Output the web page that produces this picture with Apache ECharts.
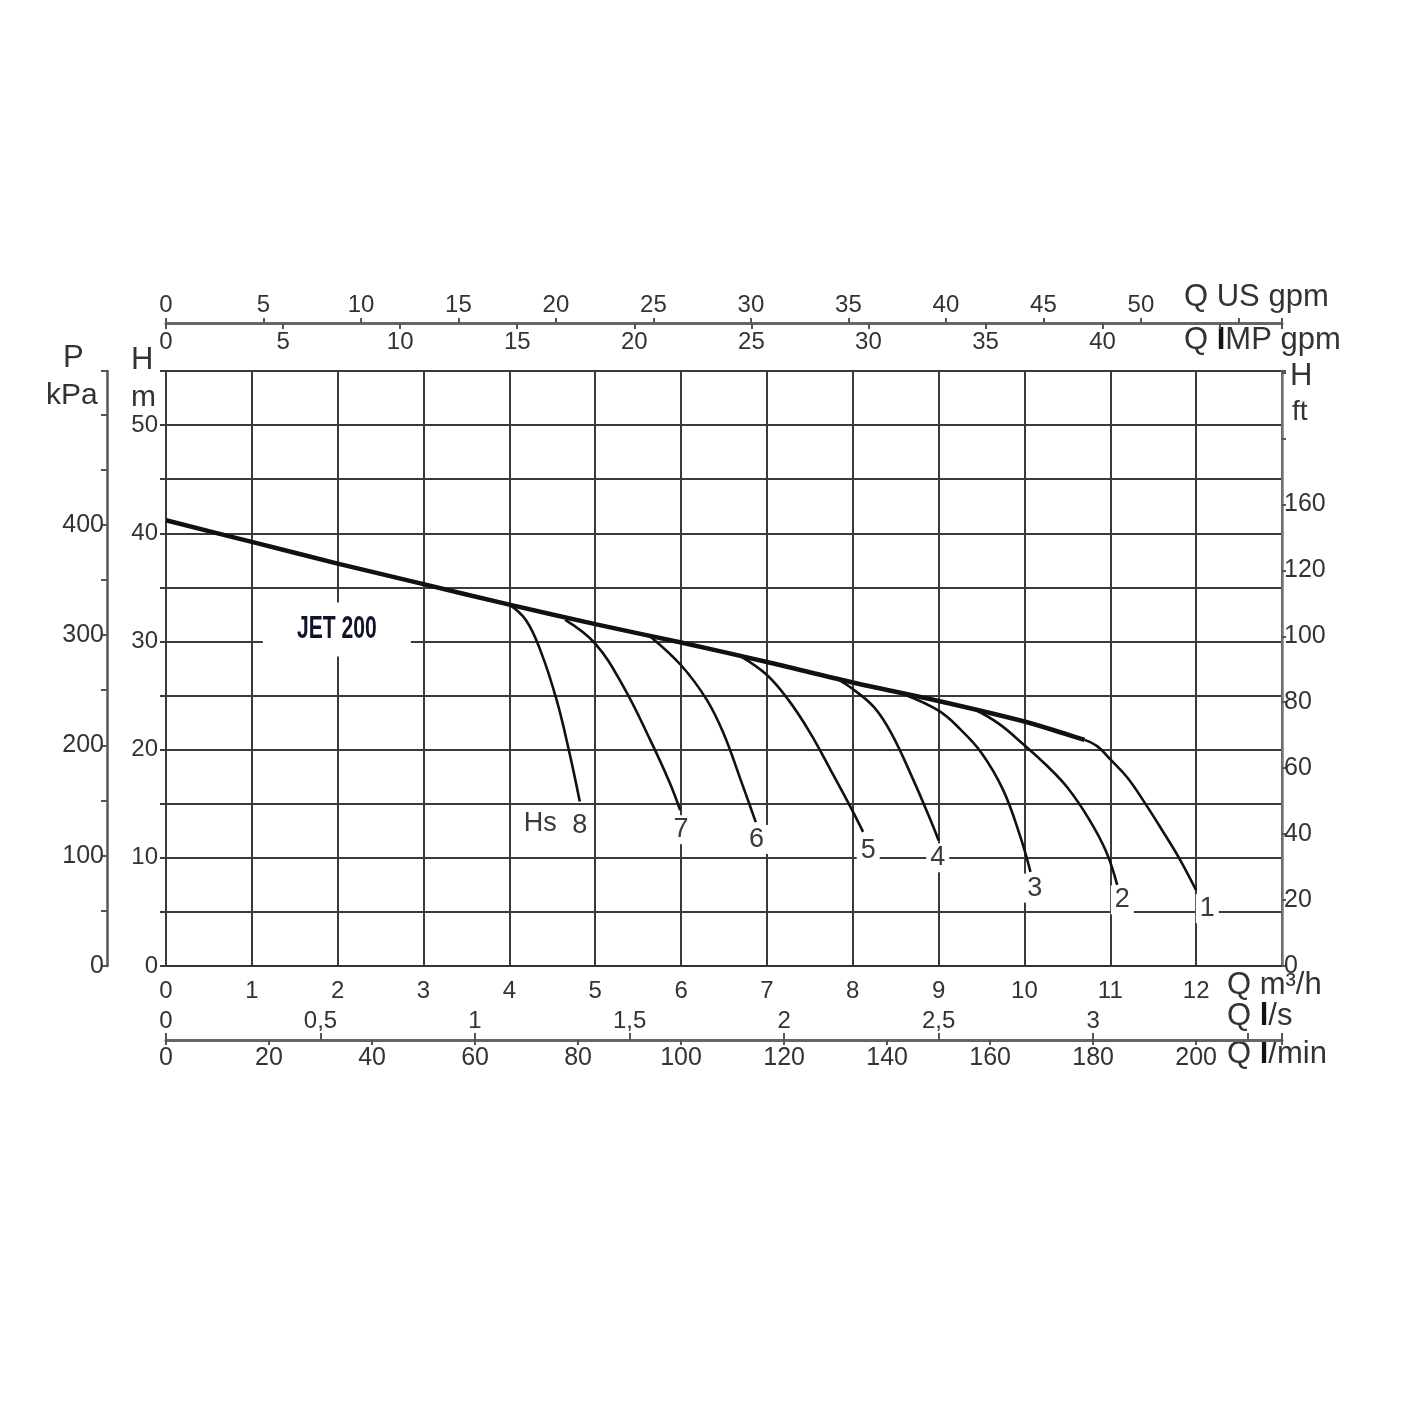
<!DOCTYPE html>
<html>
<head>
<meta charset="utf-8">
<script src="https://cdn.jsdelivr.net/npm/echarts@6/dist/echarts.min.js"></script>
<style>
html,body{margin:0;padding:0;background:#fff;}
#chart{width:1425px;height:1425px;}
</style>
</head>
<body>
<div id="chart"></div>
<script>
// ---- data (Q in m3/h, H in m) ----
const mainCurve = [[0,41.2],[1,39.2],[2,37.2],[3,35.3],[4,33.4],[5,31.6],[6,29.9],[7,28.1],[8,26.2],[9,24.5],[10,22.6],[10.5,21.4],[10.7,20.9]];
const curve1 = [[10.7,20.9],[10.85,20.3],[11,19.1],[11.2,17.4],[11.4,15.1],[11.6,12.6],[11.8,10.0],[12,7.0]];
const curve2 = [[9.4,23.8],[9.7,22.4],[10,20.4],[10.25,18.6],[10.5,16.5],[10.75,13.6],[10.95,10.6],[11.08,7.5]];
const curve3 = [[8.6,25.1],[9,23.6],[9.25,21.9],[9.5,19.7],[9.75,16.3],[9.95,12.0],[10.07,8.7]];
const curve4 = [[7.8,26.6],[8,25.6],[8.25,23.9],[8.45,21.5],[8.7,17.3],[8.9,13.6],[9.0,11.6]];
const curve5 = [[6.7,28.6],[7,26.9],[7.25,24.6],[7.5,21.6],[7.75,18.0],[8,14.3],[8.12,12.4]];
const curve6 = [[5.65,30.4],[6,27.8],[6.3,24.6],[6.5,21.4],[6.69,17.3],[6.87,13.3]];
const curve7 = [[4.65,32.0],[5,29.8],[5.33,25.8],[5.64,20.9],[5.87,16.9],[5.99,14.4]];
const curve8 = [[4.0,33.4],[4.19,32.0],[4.36,29.2],[4.55,24.6],[4.70,19.7],[4.82,15.2]];
const branchCurves = [curve1, curve2, curve3, curve4, curve5, curve6, curve7, curve8];

const curveNames = ['1','2','3','4','5','6','7','8'];
const curveLabelPos = [[12.13,5.3],[11.14,6.1],[10.12,7.2],[8.99,10.0],[8.18,10.7],[6.88,11.7],[6.0,12.6],[4.82,13.0]];
const hsLabel = {text:'Hs', pos:[4.36,13.2]};
const modelLabel = {text:'JET 200', pos:[1.99,31.1]};

// axis ranges / conversions
const qMax = 13;            // m3/h
const hMax = 55;            // m
const usGpmPerM3h = 4.4029;
const impGpmPerM3h = 3.6662;
const lsPerM3h = 1/3.6;
const lminPerM3h = 16.6667;
const kPaPerM = 9.80665;
const ftPerM = 3.28084;

const ftTickValues = [0,20,40,60,80,100,120,140];
const ftTickText   = ['0','20','40','60','80','100','120','160'];

// ---- chart ----
const FONT = "'Liberation Sans', Arial, sans-serif";
const TXT = '#333';
const lbl = (extra) => Object.assign({color:TXT, fontFamily:FONT, fontSize:24}, extra||{});
const TITLE_FONT = "31px 'Liberation Sans', Arial, sans-serif";

const chart = echarts.init(document.getElementById('chart'), null, {renderer:'canvas'});

const series = [];
series.push({
  type:'line', data:mainCurve, xAxisIndex:0, yAxisIndex:0, smooth:0.3,
  showSymbol:false, lineStyle:{color:'#111', width:4.5}, z:3
});
branchCurves.forEach((c,i)=>{
  series.push({
    type:'line', data:c, xAxisIndex:0, yAxisIndex:0, smooth:0.4,
    showSymbol:false, lineStyle:{color:'#111', width:2.6}, z:3
  });
});
series.push({
  type:'scatter', xAxisIndex:0, yAxisIndex:0, symbolSize:0, z:5,
  itemStyle:{opacity:1},
  data: curveNames.map((n,i)=>({name:n, value:curveLabelPos[i]})).concat([{name:hsLabel.text, value:hsLabel.pos}]),
  label:{show:true, position:'inside', formatter:p=>p.name, color:'#3a3a3a', opacity:1, fontFamily:FONT, fontSize:27,
         backgroundColor:'#fff', padding:[1,4]}
});

const option = {
  animation:false,
  backgroundColor:'#fff',
  grid:{left:166, right:143, top:371, bottom:459, show:true, borderColor:'#3a3a3a', borderWidth:2, backgroundColor:'transparent'},
  xAxis:[
    { // m3/h
      type:'value', position:'bottom', min:0, max:qMax, interval:1,
      axisLine:{show:true, onZero:false, lineStyle:{color:'#333', width:2}},
      axisTick:{show:false},
      axisLabel:lbl({margin:13, formatter:v=> v<=12 ? String(v) : ''}),
      splitLine:{show:true, lineStyle:{color:'#3a3a3a', width:2}}
    },
    { // US gpm
      type:'value', position:'top', offset:48, min:0, max:qMax*usGpmPerM3h, interval:5,
      axisLine:{show:true, onZero:false, lineStyle:{color:'#666', width:3}},
      axisTick:{show:true, length:5, lineStyle:{color:'#555', width:2}},
      axisLabel:lbl({margin:6, formatter:v=> v<=50 ? String(v) : ''}),
      splitLine:{show:false}
    },
    { // IMP gpm
      type:'value', position:'top', offset:48, min:0, max:qMax*impGpmPerM3h, interval:5,
      axisLine:{show:false, onZero:false},
      axisTick:{show:true, inside:true, length:6, lineStyle:{color:'#555', width:2}},
      axisLabel:lbl({inside:true, margin:7, formatter:v=> v<=40 ? String(v) : ''}),
      splitLine:{show:false}
    },
    { // l/s
      type:'value', position:'bottom', offset:74, min:0, max:qMax*lsPerM3h, interval:0.5,
      axisLine:{show:true, onZero:false, lineStyle:{color:'#666', width:3}},
      axisTick:{show:true, inside:true, length:7, lineStyle:{color:'#555', width:2}},
      axisLabel:lbl({inside:true, margin:7, formatter:v=> v<=3 ? String(v).replace('.',',') : ''}),
      splitLine:{show:false}
    },
    { // l/min
      type:'value', position:'bottom', offset:74, min:0, max:qMax*lminPerM3h, interval:20,
      axisLine:{show:false, onZero:false},
      axisTick:{show:true, length:5, lineStyle:{color:'#555', width:2}},
      axisLabel:lbl({margin:6, fontSize:25, formatter:v=> v<=200 ? String(v) : ''}),
      splitLine:{show:false}
    }
  ],
  yAxis:[
    { // H m
      type:'value', position:'left', min:0, max:hMax, interval:5,
      axisLine:{show:true, onZero:false, lineStyle:{color:'#3a3a3a', width:2}},
      axisTick:{show:true, length:6, lineStyle:{color:'#3a3a3a', width:2}},
      axisLabel:lbl({margin:8, formatter:v=> (v%10===0 && v<=50) ? String(v) : ''}),
      splitLine:{show:true, lineStyle:{color:'#3a3a3a', width:2}}
    },
    { // P kPa
      type:'value', position:'left', offset:59, min:0, max:hMax*kPaPerM, interval:50,
      axisLine:{show:true, onZero:false, lineStyle:{color:'#555', width:2.5}},
      axisTick:{show:true, length:6, lineStyle:{color:'#555', width:2}},
      axisLabel:lbl({margin:3, fontSize:25, formatter:v=> (v%100===0 && v<=400) ? String(v) : ''}),
      splitLine:{show:false}
    },
    { // H ft
      type:'value', position:'right', min:0, max:hMax*ftPerM, interval:20,
      axisLine:{show:true, onZero:false, lineStyle:{color:'#777', width:2.5}},
      axisTick:{show:true, length:4, lineStyle:{color:'#555', width:2}},
      axisLabel:lbl({margin:2, fontSize:25, formatter:v=>{ const i = ftTickValues.indexOf(Math.round(v)); return i>=0 ? ftTickText[i] : ''; }}),
      splitLine:{show:false}
    }
  ],
  graphic:[
    {type:'text', left:1184, top:282, style:{text:'Q US gpm', font:TITLE_FONT, fill:'#333'}},
    {type:'text', left:1184, top:325, style:{text:'Q {b|I}MP gpm', font:TITLE_FONT, fill:'#333',
       rich:{b:{fontWeight:'bold', fontSize:31, fontFamily:FONT, fill:'#111'}}}},
    {type:'text', left:1227, top:970, style:{text:'Q m³/h', font:TITLE_FONT, fill:'#333'}},
    {type:'text', left:1227, top:1001, style:{text:'Q {b|l}/s', font:TITLE_FONT, fill:'#333',
       rich:{b:{fontWeight:'bold', fontSize:31, fontFamily:FONT, fill:'#111'}}}},
    {type:'text', left:1227, top:1039, style:{text:'Q {b|l}/min', font:TITLE_FONT, fill:'#333',
       rich:{b:{fontWeight:'bold', fontSize:31, fontFamily:FONT, fill:'#111'}}}},
    {type:'text', left:63, top:343, style:{text:'P', font:TITLE_FONT, fill:'#333'}},
    {type:'text', left:46, top:381, style:{text:'kPa', font:"30px 'Liberation Sans', Arial, sans-serif", fill:'#333'}},
    {type:'text', left:131, top:345, style:{text:'H', font:TITLE_FONT, fill:'#333'}},
    {type:'text', left:131, top:383, style:{text:'m', font:"30px 'Liberation Sans', Arial, sans-serif", fill:'#333'}},
    {type:'text', left:1290, top:361, style:{text:'H', font:TITLE_FONT, fill:'#333'}},
    {type:'text', left:1292, top:398, style:{text:'ft', font:"28px 'Liberation Sans', Arial, sans-serif", fill:'#333'}}
  ],
  series:series
};
chart.setOption(option);

// model label (white box + condensed bold text), positioned through the axes
const mp = chart.convertToPixel({xAxisIndex:0, yAxisIndex:0}, modelLabel.pos);
option.graphic.push({
  type:'rect', x:mp[0], y:mp[1], z:100, shape:{x:-74, y:-27, width:148, height:54}, style:{fill:'#fff'}
});
option.graphic.push({
  type:'text', x:mp[0], y:mp[1], z:101, scaleX:0.66,
  style:{text:modelLabel.text, font:"bold 32px 'Liberation Sans', Arial, sans-serif",
         fill:'#10142a', align:'center', verticalAlign:'middle'}
});
chart.setOption({graphic: option.graphic});
</script>
</body>
</html>
